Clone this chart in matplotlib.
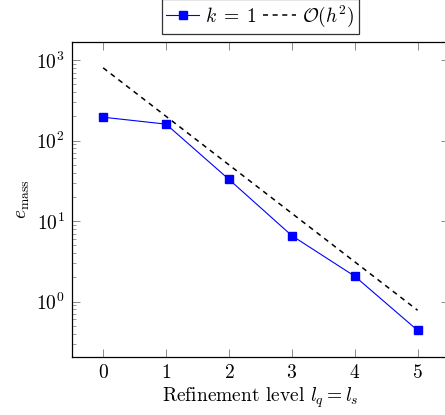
import numpy as np
import matplotlib
matplotlib.use("Agg")
import matplotlib.pyplot as plt
from matplotlib.ticker import LogLocator, NullFormatter

plt.rcParams['font.family'] = 'serif'
plt.rcParams['font.serif'] = ['cmr10', 'DejaVu Serif']
plt.rcParams['mathtext.fontset'] = 'cm'
plt.rcParams['axes.formatter.use_mathtext'] = True

levels = [0, 1, 2, 3, 4, 5]
e_mass_k1 = [195, 160, 33, 6.6, 2.07, 0.44]
ref_h2 = [800, 200, 50, 12.5, 3.125, 0.78125]

fig = plt.figure(figsize=(4.45, 4.15), dpi=100)
ax = fig.add_axes([71.7/445, 58.3/415, (449-71.7)/445, (373-58.3)/415])

ax.plot(levels, e_mass_k1, color='blue', lw=0.8, marker='s', markersize=6.3,
        markeredgecolor='blue', label=r'$k\;=\;1$')
ax.plot(levels, ref_h2, color='black', lw=1.1, dashes=(3.3, 3.0),
        label=r'$\mathcal{O}(h^2)$')

ax.set_yscale('log')
ax.set_xlim(-0.5, 5.5)
ax.set_ylim(0.207, 1675)
ax.set_xticks(levels)
ax.yaxis.set_major_locator(LogLocator(base=10, numticks=10))
ax.yaxis.set_minor_locator(LogLocator(base=10, subs=np.arange(2, 10), numticks=20))
ax.yaxis.set_minor_formatter(NullFormatter())

ax.tick_params(which='both', direction='in', top=True, right=True,
               color='#777777', labelsize=14)
ax.tick_params(which='major', length=5.5, width=0.6, pad=5)
ax.tick_params(which='minor', length=3, width=0.5)
for s in ax.spines.values():
    s.set_linewidth(0.9)

ax.set_xlabel(r'Refinement level $l_q = l_s$', fontsize=14, labelpad=3)
ax.set_ylabel(r'$e_{\mathrm{mass}}$', fontsize=14, labelpad=3)

leg = ax.legend(loc='lower center', bbox_to_anchor=(0.5, 1.025), ncol=2,
                frameon=True, fancybox=False, fontsize=14, handlelength=1.7,
                columnspacing=0.3, handletextpad=0.3, borderpad=0.25,
                borderaxespad=0.0)
leg.get_frame().set_edgecolor('black')
leg.get_frame().set_linewidth(0.9)

fig.savefig('out.png', dpi=100)
